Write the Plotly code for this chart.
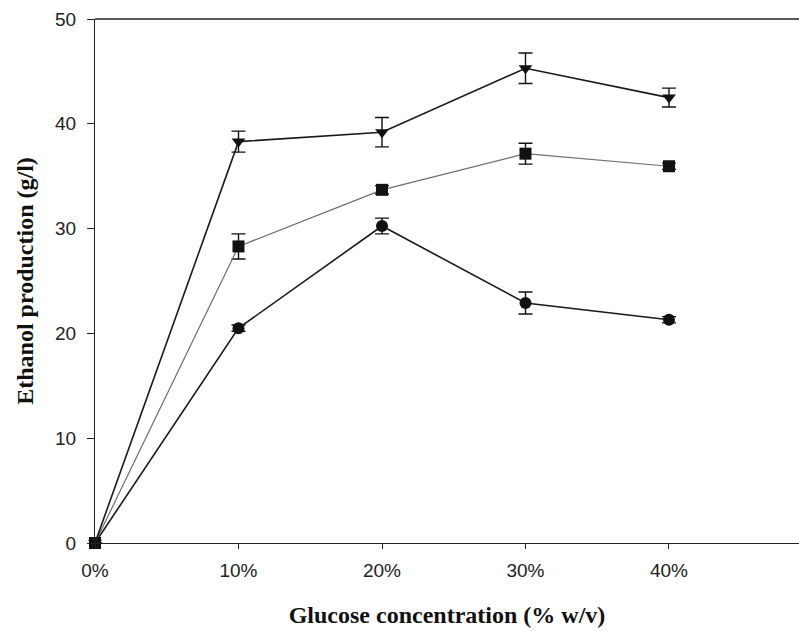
import plotly.graph_objects as go

# Glucose concentration (% w/v) and ethanol production (g/l)
glucose = [0, 10, 20, 30, 40]
tick_labels = ["0%", "10%", "20%", "30%", "40%"]

ethanol_tri = [0, 38.3, 39.2, 45.3, 42.5]
err_tri = [0, 1.0, 1.4, 1.45, 0.9]

ethanol_sq = [0, 28.3, 33.7, 37.15, 35.95]
err_sq = [0, 1.2, 0.4, 1.0, 0.3]

ethanol_circ = [0, 20.5, 30.25, 22.9, 21.3]
err_circ = [0, 0.3, 0.75, 1.05, 0.3]

y_ticks = [0, 10, 20, 30, 40, 50]

series = [
    (ethanol_circ, err_circ, "circle", "#1a1a1a", 1.6),
    (ethanol_sq, err_sq, "square", "#6e6e6e", 1.2),
    (ethanol_tri, err_tri, "triangle-down", "#1a1a1a", 1.6),
]

fig = go.Figure()
for vals, errs, sym, lcol, lw in series:
    fig.add_trace(go.Scatter(
        x=glucose, y=vals, mode="lines+markers",
        line=dict(color=lcol, width=lw),
        marker=dict(symbol=sym, size=12, color="#111111"),
        error_y=dict(type="data", array=errs, visible=True,
                     color="#111111", thickness=1.4, width=7),
        cliponaxis=False, showlegend=False,
    ))

# top frame line only (no right-hand border)
fig.add_shape(type="line", xref="paper", yref="paper", x0=0, x1=1, y0=1, y1=1,
              line=dict(color="#222222", width=1.3))

title_font = dict(family="Liberation Serif, Times New Roman, serif", size=24, color="#111111")

fig.update_layout(
    width=799, height=631,
    margin=dict(l=95, r=0, t=19, b=88),
    paper_bgcolor="white", plot_bgcolor="white",
    font=dict(family="Liberation Sans, Arial, sans-serif", size=19, color="#222222"),
    xaxis=dict(
        range=[0, 49.06], tickvals=glucose, ticktext=tick_labels,
        showgrid=False, zeroline=False, showline=True, linecolor="#222222",
        linewidth=1.3, ticks="outside", ticklen=5, tickwidth=1.2,
        tickcolor="#222222", ticklabelstandoff=5,
        title=dict(text="<b>Glucose concentration (% w/v)</b>", font=title_font,
                   standoff=26),
    ),
    yaxis=dict(
        range=[0, 50], tickvals=y_ticks,
        showgrid=False, zeroline=False, showline=True, linecolor="#222222",
        linewidth=1.3, ticks="outside", ticklen=7, tickwidth=1.2,
        tickcolor="#222222", ticklabelstandoff=7,
        title=dict(text="<b>Ethanol production (g/l)</b>", font=title_font,
                   standoff=14),
    ),
)

fig.write_html("out.html")
